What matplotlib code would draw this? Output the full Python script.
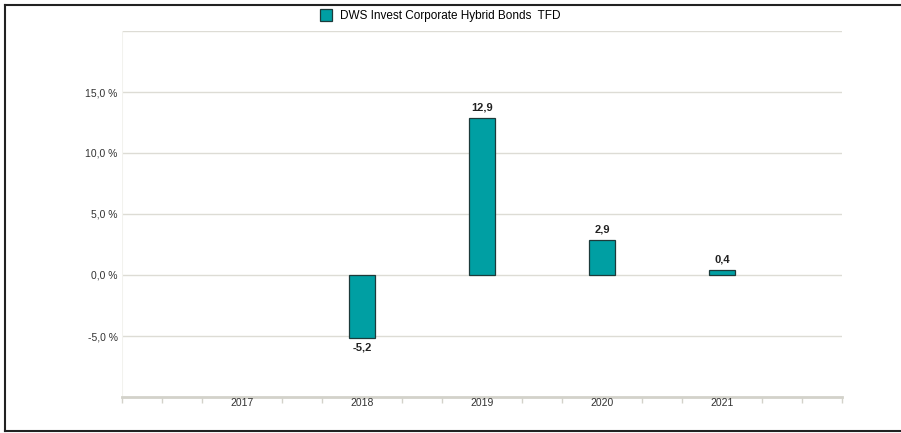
import numpy as np
import matplotlib
matplotlib.use("Agg")
import matplotlib.pyplot as plt
from matplotlib.lines import Line2D

plt.rcParams['font.family'] = ['Liberation Sans', 'DejaVu Sans']

years = [2017, 2018, 2019, 2020, 2021]
values = [np.nan, -5.2, 12.9, 2.9, 0.4]
value_labels = ["", "-5,2", "12,9", "2,9", "0,4"]
y_ticks = [-5, 0, 5, 10, 15]
y_tick_labels = ["-5,0 %", "0,0 %", "5,0 %", "10,0 %", "15,0 %"]
series_name = "DWS Invest Corporate Hybrid Bonds  TFD"

teal = "#009FA3"
edge = "#1d3a3a"
grid_col = "#dddcd5"

W, H = 901, 433
fig = plt.figure(figsize=(W / 100, H / 100), dpi=100)
ax = fig.add_axes([122 / W, 1 - 397 / H, (842 - 122) / W, (397 - 31) / H])

ax.set_xlim(2016, 2022)
ax.set_ylim(-10, 20)

# grid lines
for g in [-5, 0, 5, 10, 15, 20]:
    ax.axhline(g, color=grid_col, lw=1.0, zorder=0)
ax.axhline(-10, color="#d3d2ca", lw=2.0, zorder=1, clip_on=False)
ax.axvline(2016, color="#f2f2ee", lw=0.8, zorder=0)

ax.bar(years, values, width=0.225, color=teal, edgecolor=edge, linewidth=0.9, zorder=3)

for x, v, lab in zip(years, values, value_labels):
    if np.isnan(v):
        continue
    if v >= 0:
        ax.annotate(lab, (x, v), xytext=(0, 4), textcoords="offset points",
                    ha="center", va="bottom", fontsize=8, fontweight="bold", color="#222222")
    else:
        ax.annotate(lab, (x, v), xytext=(0, -3), textcoords="offset points",
                    ha="center", va="top", fontsize=8, fontweight="bold", color="#222222")

for s in ax.spines.values():
    s.set_visible(False)

ax.set_yticks(y_ticks)
ax.set_yticklabels(y_tick_labels, fontsize=7.5, color="#333333")
ax.tick_params(axis="y", length=0, pad=3)

ax.set_xticks(years)
ax.set_xticklabels([str(y) for y in years], fontsize=7.5, color="#333333")
ax.tick_params(axis="x", length=0, pad=1)
minor = [2016 + k / 3 for k in range(19) if k % 3 != 0 or k in (0, 18)]
ax.set_xticks(minor, minor=True)
ax.tick_params(axis="x", which="minor", length=4, width=1.0, color="#d3d2ca")

# legend
handle = Line2D([], [], marker="s", linestyle="none", markersize=8,
                markerfacecolor=teal, markeredgecolor=edge, markeredgewidth=0.9)
fig.legend([handle], [series_name], loc="center", bbox_to_anchor=(437 / W, 1 - 16 / H),
           frameon=False, fontsize=8.5, handletextpad=0.2, borderaxespad=0)

# outer frame
fig.add_artist(Line2D([5 / W, 5 / W], [1 - 5 / H, 1 - 431 / H], color="#222222", lw=1.5))
fig.add_artist(Line2D([5 / W, 1], [1 - 5 / H, 1 - 5 / H], color="#222222", lw=1.5))
fig.add_artist(Line2D([5 / W, 1], [1 - 431 / H, 1 - 431 / H], color="#222222", lw=1.5))

fig.savefig("out.png", dpi=100)
